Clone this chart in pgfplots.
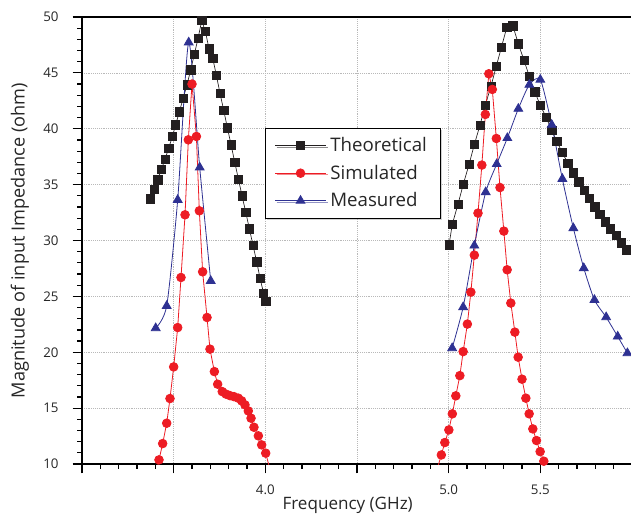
\documentclass[border=0pt]{standalone}
\usepackage{pgfplots}
\pgfplotsset{compat=1.18}
\usepackage{fontspec}
\setmainfont{Open Sans}
\usetikzlibrary{shadows}
\definecolor{cblack}{HTML}{231F20}
\definecolor{cred}{HTML}{ED1C24}
\definecolor{cblue}{HTML}{2E3192}
\begin{document}
\begin{tikzpicture}
\begin{axis}[
  at={(0,0)}, anchor=south west,
  scale only axis,
  width=412.5pt, height=335.25pt,
  xmin=3, xmax=6, ymin=10, ymax=50,
  xtick={3,3.5,4,4.5,5,5.5,6},
  xticklabels={,,4.0,,5.0,5.5,},
  minor x tick num=4,
  ytick={10,15,20,25,30,35,40,45,50},
  minor y tick num=4,
  tick pos=left,
  tick align=outside,
  major tick length=7pt,
  minor tick length=3.5pt,
  every tick/.style={black, line width=0.9pt},
  axis line style={black, line width=1.1pt},
  grid=major,
  major grid style={densely dotted, gray!55, line width=0.5pt},
  /pgf/number format/assume math mode=true,
  ticklabel style={font=\fontsize{10}{12}\selectfont, text=black!85},
  xticklabel style={yshift=-5pt},
  yticklabel style={xshift=-7pt},
  xlabel={Frequency (GHz)},
  ylabel={Magnitude of input Impedance (ohm)},
  xlabel style={font=\fontsize{12.8}{14}\selectfont, text=black!85, yshift=5pt, xshift=-7pt},
  ylabel style={font=\fontsize{13.6}{15}\selectfont, text=black!85, yshift=4pt},
  legend cell align=left,
  legend style={at={(0.3327,0.752)}, anchor=north west, draw=black, line width=0.6pt,
    font=\fontsize{14}{16}\selectfont, text=black!85, row sep=4.5pt,
    drop shadow={shadow xshift=1.2pt, shadow yshift=-1.2pt, fill=gray!70},
    inner xsep=7pt, inner ysep=5pt,
    nodes={inner xsep=3pt}},
  legend image code/.code={\draw[mark repeat=2,mark phase=2,#1] plot coordinates {(0cm,0cm) (0.67cm,0cm) (1.34cm,0cm)};},
]
% Theoretical (left band)
\addplot[color=cblack, line width=0.5pt, mark=square*, mark size=3.1pt, mark options={fill=cblack, draw=cblack}] coordinates {
(3.373,33.73) (3.393,34.57) (3.413,35.43) (3.433,36.36) (3.453,37.29) (3.473,38.27)
(3.493,39.31) (3.511,40.36) (3.531,41.52) (3.551,42.69) (3.573,43.94) (3.593,45.28)
(3.613,46.69) (3.633,48.08) (3.653,49.67) (3.673,48.71) (3.693,47.14) (3.713,46.33)
(3.733,44.77) (3.753,43.16) (3.773,41.64) (3.793,40.09) (3.813,38.57) (3.833,37.02)
(3.853,35.50) (3.873,34.00) (3.893,32.54) (3.913,31.05) (3.933,29.55) (3.953,28.09)
(3.971,26.63) (3.991,25.26) (4.002,24.54)
};
\addlegendentry{Theoretical}
% Simulated (left band)
\addplot[color=cred, line width=0.6pt, mark=*, mark size=3.25pt, mark options={fill=cred, draw=cred}] coordinates {
(3.420,10.37) (3.440,11.83) (3.462,13.65) (3.480,15.86) (3.500,18.69) (3.522,22.21)
(3.540,26.69) (3.562,32.30) (3.580,39.01) (3.600,44.00) (3.624,39.31) (3.640,32.66)
(3.658,27.20) (3.682,23.11) (3.698,20.28) (3.722,18.27) (3.740,17.14) (3.765,16.48)
(3.786,16.25) (3.807,16.12) (3.829,16.03) (3.853,15.89) (3.871,15.65) (3.889,15.29)
(3.907,14.75) (3.922,14.10) (3.938,13.29) (3.962,12.52) (3.980,11.71) (4.002,10.97)
};
\addlegendentry{Simulated}
% Measured (left band)
\addplot[color=cblue, line width=0.6pt, smooth, tension=0.4, mark=triangle*, mark size=3.8pt, mark options={fill=cblue, draw=cblue, solid}] coordinates {
(3.402,22.16) (3.462,24.15) (3.522,33.64) (3.582,47.73) (3.642,36.54) (3.702,26.39)
};
\addlegendentry{Measured}
% line stubs below the axis
\addplot[color=cred, line width=0.6pt, forget plot] coordinates {(3.400,8.9) (3.420,10.37)};
\addplot[color=cred, line width=0.6pt, forget plot] coordinates {(4.002,10.97) (4.024,9.6)};
\addplot[color=cred, line width=0.6pt, forget plot] coordinates {(4.940,9.7) (4.960,10.81)};
\addplot[color=cred, line width=0.6pt, forget plot] coordinates {(5.519,10.25) (5.540,9.3)};
% Theoretical (right band)
\addplot[color=cblack, line width=0.5pt, mark=square*, mark size=3.1pt, mark options={fill=cblack, draw=cblack}, forget plot] coordinates {
(5.002,29.62) (5.020,31.47) (5.051,33.26) (5.080,35.05) (5.111,36.80) (5.140,38.59)
(5.171,40.33) (5.200,42.12) (5.231,43.82) (5.260,45.61) (5.288,47.31) (5.317,49.07)
(5.350,49.22) (5.380,47.61) (5.411,46.11) (5.440,44.68) (5.470,43.31) (5.499,42.12)
(5.531,41.05) (5.562,39.85) (5.590,38.86) (5.619,37.88) (5.650,36.93) (5.679,36.06)
(5.710,35.26) (5.739,34.52) (5.768,33.76) (5.797,33.02) (5.825,32.33) (5.855,31.68)
(5.883,31.04) (5.913,30.43) (5.941,29.80) (5.971,29.17)
};
% Simulated (right band)
\addplot[color=cred, line width=0.6pt, mark=*, mark size=3.25pt, mark options={fill=cred, draw=cred}, forget plot] coordinates {
(4.960,10.81) (4.979,11.92) (5.001,13.05) (5.020,14.49) (5.039,16.10) (5.061,17.91)
(5.079,20.06) (5.102,22.52) (5.121,25.38) (5.140,28.69) (5.160,32.45) (5.181,36.75)
(5.200,41.28) (5.219,44.92) (5.238,43.52) (5.260,39.13) (5.280,34.74) (5.301,30.84)
(5.319,27.38) (5.339,24.40) (5.361,21.80) (5.379,19.56) (5.400,17.59) (5.421,15.89)
(5.439,14.49) (5.459,13.14) (5.479,12.10) (5.499,11.11) (5.519,10.25)
};
% Measured (right band)
\addplot[color=cblue, line width=0.6pt, smooth, tension=0.4, mark=triangle*, mark size=3.8pt, mark options={fill=cblue, draw=cblue, solid}, forget plot] coordinates {
(5.019,20.37) (5.079,24.04) (5.140,29.55) (5.202,34.33) (5.262,36.84) (5.320,39.17)
(5.380,41.79) (5.440,43.94) (5.500,44.39) (5.562,40.36) (5.620,35.52) (5.680,31.11)
(5.737,27.53) (5.795,24.69) (5.859,23.14) (5.922,21.41) (5.975,19.92)
};
\end{axis}
\pgfresetboundingbox
\path[use as bounding box] (-61.5pt,-38.25pt) rectangle (411.75pt,348pt);
\end{tikzpicture}
\end{document}
